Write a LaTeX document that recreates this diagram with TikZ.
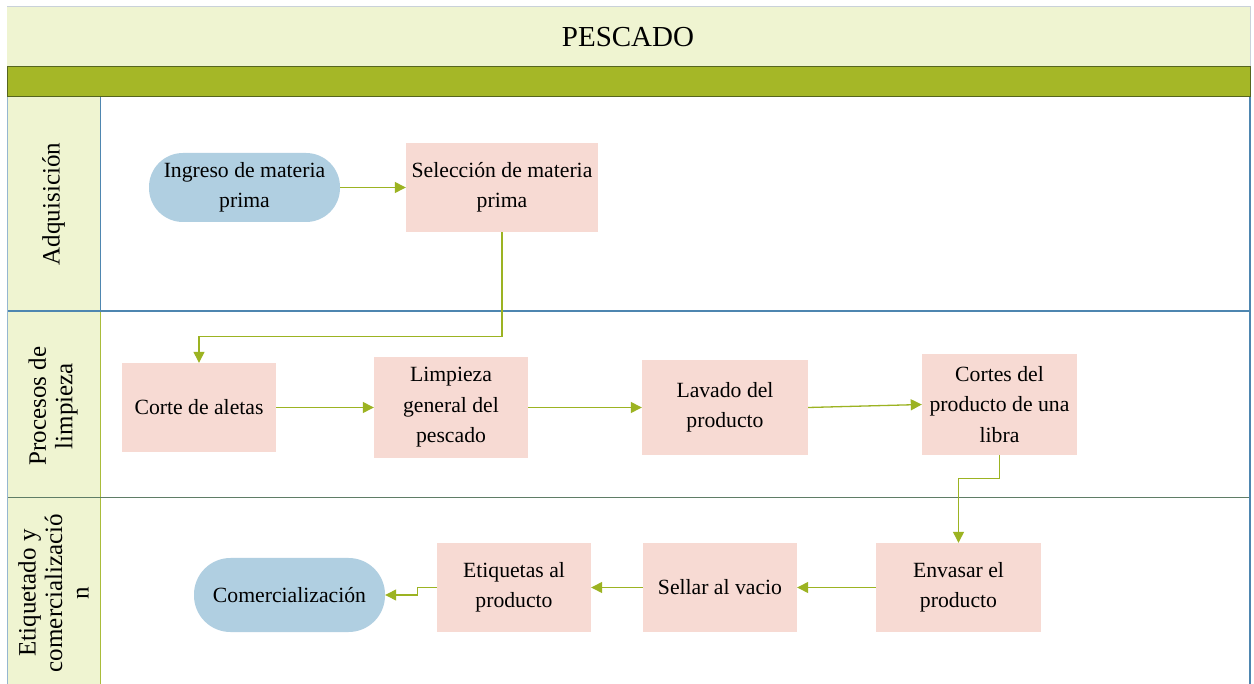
\documentclass[tikz,border=0pt]{standalone}
\usepackage{fontspec}
\setmainfont{Liberation Serif}
\usetikzlibrary{arrows.meta}
\definecolor{titlebg}{HTML}{EFF4D1}
\definecolor{bandgreen}{HTML}{A5B727}
\definecolor{banddark}{HTML}{55651E}
\definecolor{lanelblue}{HTML}{4E86B0}
\definecolor{lanegreen}{HTML}{5F7D66}
\definecolor{colgreen}{HTML}{A9BC3A}
\definecolor{pinkbox}{HTML}{F7DAD3}
\definecolor{bluebox}{HTML}{B0CFE1}
\definecolor{arrowc}{HTML}{9CB322}
\definecolor{graybord}{HTML}{C9D1D9}
\tikzset{
  procbox/.style={fill=pinkbox, draw=none, align=center, inner sep=0pt, font=\fontsize{21.7}{30.5}\selectfont},
  termbox/.style={fill=bluebox, draw=none, align=center, inner sep=0pt, font=\fontsize{21.7}{30.5}\selectfont},
  flow/.style={draw=arrowc, line width=1.3pt, -{Triangle[length=11pt,width=11pt]}},
  lanelabel/.style={rotate=90, align=center, font=\fontsize{25}{26.5}\selectfont}
}
\begin{document}
\begin{tikzpicture}[x=1pt,y=-1pt]
\useasboundingbox (0,0) rectangle (1254,684);
\fill[white] (0,0) rectangle (1254,684);
% title band
\fill[titlebg] (7,7) rectangle (1250,67);
\draw[graybord, line width=1pt] (7,7) -- (1250,7) -- (1250,67);
\node[font=\fontsize{29}{32}\selectfont] (title) at (628,37) {PESCADO};
% green band
\draw[fill=bandgreen, draw=banddark, line width=1pt] (7,67) rectangle (1250,97);
% label column
\fill[titlebg] (7,97) rectangle (100,684);
% lane lines
\draw[lanelblue, line width=1pt] (100,97) -- (100,311);
\draw[colgreen, line width=1pt] (100,311) -- (100,684);
\draw[lanelblue, line width=1.2pt] (7,311) -- (1250,311);
\draw[lanegreen, line width=1.2pt] (7,497.5) -- (1250,497.5);
\draw[lanelblue, line width=1.2pt] (1250,97) -- (1250,684);
\draw[lanelblue!60, line width=1pt] (7,97) -- (7,684);
% lane labels
\node[lanelabel] (l1) at (53.5,204) {Adquisición};
\node[lanelabel] (l2) at (53,406) {Procesos de\\limpieza};
\node[lanelabel] (l3) at (53.5,593) {Etiquetado y\\comercializació\\n};
% nodes
\node[termbox, minimum width=191pt, minimum height=69pt, rounded corners=34pt] (ing) at (244.5,187.5) {Ingreso de materia\\prima};
\node[procbox, minimum width=192pt, minimum height=89pt] (sel) at (502,187.5) {Selección de materia\\prima};
\node[procbox, minimum width=154pt, minimum height=89pt] (cor) at (199,407.5) {Corte de aletas};
\node[procbox, minimum width=154pt, minimum height=101pt] (lim) at (451,407.5) {Limpieza\\general del\\pescado};
\node[procbox, minimum width=166pt, minimum height=95pt] (lav) at (725,407.5) {Lavado del\\producto};
\node[procbox, minimum width=155pt, minimum height=101pt] (ctp) at (999.5,404.5) {Cortes del\\producto de una\\libra};
\node[procbox, minimum width=165pt, minimum height=89pt] (env) at (958.5,587.5) {Envasar el\\producto};
\node[procbox, minimum width=154pt, minimum height=89pt] (sel2) at (720,587.5) {Sellar al vacio};
\node[procbox, minimum width=154pt, minimum height=89pt] (eti) at (514,587.5) {Etiquetas al\\producto};
\node[termbox, minimum width=191pt, minimum height=74pt, rounded corners=36.5pt] (com) at (289.5,595) {Comercialización};
% connectors
\draw[flow] (ing.east) -- (sel.west);
\draw[flow] (sel.south) -- ++(0,104) -| (cor.north);
\draw[flow] (cor.east) -- (lim.west);
\draw[flow] (lim.east) -- (lav.west);
\draw[flow] (lav.east) -- (ctp.west);
\draw[flow] (ctp.south) -- ++(0,23) -| (env.north);
\draw[flow] (env.west) -- (sel2.east);
\draw[flow] (sel2.west) -- (eti.east);
\draw[flow] (eti.west) -- ++(-19,0) |- (com.east);
\end{tikzpicture}
\end{document}
